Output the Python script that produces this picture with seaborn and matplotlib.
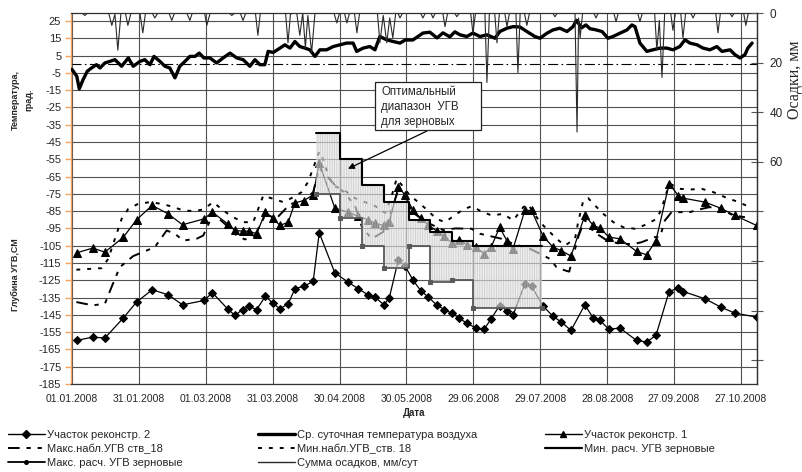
import matplotlib
matplotlib.use("Agg")
import matplotlib.pyplot as plt
import seaborn as sns
from matplotlib.lines import Line2D
from matplotlib.patches import Rectangle

# ---------------- data ----------------
date_ticks = [0, 30, 60, 90, 120, 150, 180, 210, 240, 270, 300]
date_labels = ["01.01.2008", "31.01.2008", "01.03.2008", "31.03.2008", "30.04.2008",
               "30.05.2008", "29.06.2008", "29.07.2008", "28.08.2008", "27.09.2008",
               "27.10.2008"]
depth_ticks = [-185, -175, -165, -155, -145, -135, -125, -115, -105, -95, -85, -75,
               -65, -55, -45, -35, -25, -15, -5, 5, 15, 25]
prec_ticks = [0, 20, 40, 60, 80, 100, 120, 140]
prec_tick_labels = ["0", "20", "40", "60", "", "", "", ""]

# observation days (days since 01.01.2008) for the two plots
obs_days = [2.1, 9.3, 14.8, 23, 29, 36, 43.2, 49.6, 59.2, 63, 69.8, 73.1, 76.5, 79.5,
            82.8, 86.8, 90, 93.3, 97, 100, 104, 108.2, 110.9, 117.9, 123.9, 128.4,
            132.9, 135.9, 139.9, 142.3, 146.3, 149.3, 153, 156.4, 159.8, 163.5, 167,
            170.3, 173.7, 177, 181.2, 184.8, 188, 191.8, 195, 197.8, 203.1, 206.1,
            211.3, 215.7, 219.3, 223.8, 230, 233.8, 236.8, 240.8, 245.7, 253.2, 257.7,
            261.9, 267.8, 271.9, 274.1, 283.9, 290.9, 297.3, 307]
site1 = [-109.1, -106.4, -108.7, -100.2, -90, -81.7, -86.6, -92.9, -89.5, -85.6, -92.3,
         -96.2, -96.6, -96.6, -98.1, -85.6, -89, -93.3, -91.4, -80.2, -78.9, -75.6, -57,
         -83.3, -85.6, -88, -90, -92, -93.3, -91.4, -71, -75.5, -84.6, -89, -93, -96.5,
         -99.5, -103.3, -101.6, -104.5, -105.8, -109.7, -105.8, -94.3, -102, -106.8,
         -84.6, -84.6, -99.5, -105.8, -107.8, -111, -87.5, -93.3, -94.8, -100, -101,
         -108.3, -110.3, -102, -69.2, -76, -77.5, -79.8, -83.3, -87.5, -93.3]
site2 = [-159.8, -157.9, -158.4, -146.9, -137.6, -130.5, -133.4, -139.2, -136.7, -132.2,
         -141.5, -145.3, -142, -140.1, -142, -134.2, -138.2, -141.5, -138.6, -129.9,
         -128.4, -125.7, -97.5, -120.7, -126.1, -129.9, -133.5, -134.7, -139.2, -135.3,
         -113.5, -116.6, -125, -131, -134.7, -139.2, -142, -144, -146.9, -149.8, -152.6,
         -153.4, -147.3, -139.6, -142.5, -145.3, -127, -128.3, -140, -145.8, -149, -154,
         -139.2, -146.9, -148.2, -153.4, -152.6, -159.8, -160.7, -156.9, -131.5, -129.5,
         -131.5, -135.7, -140.5, -144, -146.3]

# observed min depth, well 18 (upper dotted line)
minobs_days = [2, 13.3, 16.3, 19.3, 22.3, 25.3, 29.7, 35, 40.2, 44.7, 49.9, 55.2, 58.9,
               63.4, 67.8, 72.3, 76.8, 81.3, 85.8, 90.3, 94.8, 99.2, 103, 106, 107.5,
               109.7, 110.9, 112, 113.5, 115, 117.2, 122.4, 126, 131.4, 135.9, 140.4,
               143, 145.6, 148, 151.6, 155.3, 159, 163.5, 167.3, 171, 175.5, 179.2, 183.7,
               188.2, 193.4, 197.9, 202.4, 204.5, 209.9, 213.6, 217.3, 221.1, 225.6, 227,
               229.3, 231.5, 235.3, 238.3, 242.8, 247.2, 252.5, 257, 262.2, 264.4, 266.7,
               268.2, 272.6, 277.1, 282.4, 287.6, 292.8, 298.1, 302.5, 305]
minobs = [-118.9, -118, -112.6, -101, -89.5, -83.7, -80.8, -79.8, -80.8, -82.3, -84.6,
          -85, -84, -79.8, -84.6, -88.5, -91.4, -91.4, -76, -77.9, -79.8, -77, -74, -67.9,
          -62.5, -54.8, -50.5, -52.9, -58.6, -64.4, -70.2, -73, -77, -79.8, -82, -86, -78,
          -66.3, -70, -76, -79.8, -84, -89.5, -91.4, -88, -84, -82.2, -85.2, -87.5, -86.6,
          -90.4, -82.7, -81, -91.4, -96.2, -101, -104.9, -101, -91.4, -78.9, -77.5, -82.7,
          -86.6, -91.4, -94.3, -95.2, -93, -89.5, -83.7, -74, -69.2, -72.1, -72.5, -72.1,
          -74, -76.9, -79.4, -81.8, -83]

# observed max depth, well 18 (lower dash line)
maxobs_days = [2, 9.3, 14.8, 17.8, 21.5, 27.5, 33.5, 37.2, 42.5, 46.2, 49.9, 55.9, 58.9,
               63.4, 69.4, 73.9, 77.6, 82, 87, 91.5, 97.8, 104, 108.2, 110.9, 118, 122,
               127, 130, 134.4, 139.6, 142.5, 146, 149, 153, 159, 166.5, 172, 179.2, 183,
               192.7, 198, 205.4, 208.4, 214.3, 217.3, 221.1, 223, 227, 230, 234, 240, 246,
               252, 255.4, 261.4, 263.7, 265.9, 268.9, 272, 277, 282.4, 286, 290.6, 296.6,
               301.8]
maxobs = [-137.6, -139.5, -138.6, -128.9, -117.4, -111, -107.8, -105.8, -96.2, -98.1,
          -102, -101, -99.1, -86.5, -93.3, -99.1, -101.4, -99, -86.6, -89.5, -81, -79, -74,
          -60, -70, -74, -82, -94, -101, -97, -88, -74, -77, -86, -91.4, -96, -95, -95.2,
          -98.1, -101, -104, -106.8, -108.7, -112.6, -117.4, -119.3, -120, -100, -90, -97,
          -102, -104, -104, -103, -100, -100, -90.4, -85.6, -85.6, -85.6, -83.7, -82.7,
          -83.7, -87.5, -88.5]

# calculated optimal range for grain crops (step lines)
step_days = [109.4, 120, 130, 140, 151, 160.5, 170.3, 180, 211]
calc_min = [-40, -55, -70, -80, -90, -97, -102, -105, -105]
calc_max = [-75, -89, -105, -118, -105, -126, -125, -141, -141]

# mean daily air temperature
temp_days = [0, 2.2, 3.3, 5, 6.9, 8.8, 11, 12.6, 14.8, 17, 19.3, 22.3, 25.3, 27.5, 30.5,
             32.7, 35, 36.8, 39.5, 41.7, 43.9, 46.2, 48.4, 50.7, 52.9, 55.2, 57.1, 59.2,
             61.9, 64.9, 67.8, 70.9, 73.9, 76.8, 79.8, 82.1, 84.3, 86.5, 88, 90.3, 93.3,
             95.5, 97.8, 100, 102.2, 104.5, 106.7, 109, 111.2, 114.2, 117.2, 120.2, 123.2,
             126.1, 127.7, 130.6, 133.6, 135.9, 138.1, 141.1, 144.1, 147.1, 149.5, 152.9,
             157.4, 160.5, 163.7, 166.4, 169.5, 171.7, 174, 177.1, 179.8, 183, 186.1,
             189.7, 191.9, 195.1, 197.8, 200.9, 204, 207.6, 209.9, 213, 215.7, 218.8, 222,
             224.7, 226.3, 228.5, 230.5, 232.3, 234.5, 237.7, 240.4, 242.6, 245.7, 248.9,
             251.1, 252.5, 254.7, 257.8, 260.5, 263.7, 266.8, 269.5, 272.6, 274.9, 277.1,
             280.3, 283, 286.1, 289.2, 291.5, 295.1, 297.3, 299.6, 301.8, 303.1, 305]
temp = [-3, -7, -14.3, -9, -4.1, -2.2, -0.3, -2.2, 0.7, 1.6, 2.6, -1.2, 3.6, -1.2, 1.6,
        2.6, -0.3, 4.5, 1.6, -1.2, -2.2, -7.9, -1.2, 1.6, 4.5, 4.5, 6.4, 3.6, 3.6, 0.7,
        3.6, 6.4, 3.6, 2.6, -1.2, 2.6, -0.3, -0.3, 7.4, 6.8, 9.3, 11.2, 9.3, 13.1, 10.2,
        9.3, 8.3, 4.5, 8.3, 8.3, 10.2, 11.2, 12.2, 12.2, 7.4, 9.3, 10.2, 8.3, 16, 14.1,
        13.1, 12.2, 14, 14, 18, 18.5, 15.2, 18.1, 15.8, 18.7, 17, 16, 18, 16, 17, 15, 18.9,
        20.8, 21.7, 21.5, 18.9, 16, 15, 17.9, 19.8, 20.8, 18.9, 21.7, 25.4, 21, 22.7, 20.5,
        20, 18.9, 15, 16, 17.9, 19.8, 22.7, 21.7, 12.2, 7.4, 8.3, 9.3, 9.3, 8.3, 10.2,
        14.1, 12.2, 11.2, 9.3, 8.3, 10.2, 7.4, 8.3, 5.5, 3.6, 5.5, 9.3, 12.2]

# daily precipitation, mm
prec_days = [0, 4.5, 5.8, 7, 16.5, 17.9, 19.3, 20.6, 22, 24, 25.1, 26.5, 30.5, 31.8, 33,
             36, 37.2, 38.5, 43.5, 44.8, 46, 51.5, 52.9, 54, 59.5, 60.5, 62, 70.5, 71.7,
             73, 75.5, 76.7, 78, 82.3, 83.4, 84.5, 95.8, 96.9, 98, 99.2, 100.8, 102.2,
             103.5, 104.7, 105.8, 107.5, 109, 117.5, 118.8, 120, 122.2, 123.3, 124.5,
             126.7, 127.8, 129, 137, 138.1, 139.6, 141.2, 142.5, 143.9, 145.2, 146.2,
             147.1, 148.3, 156.3, 157.4, 158.5, 161, 161.9, 163, 166.3, 167.3, 168.5,
             171.6, 172.6, 173.8, 178.8, 179.8, 181, 185.2, 186.1, 187.2, 189.6, 190.6,
             191.7, 194.1, 195.1, 196.2, 199.1, 200, 201, 202.9, 204, 205.2, 215.6, 216.6,
             217.7, 225.6, 226.5, 227.2, 227.9, 229, 234, 235, 236, 243, 244, 245, 253.7,
             254.7, 255.8, 261.3, 262.3, 263.4, 264.6, 265.8, 268.5, 269.5, 270.6, 273,
             274, 275.2, 277.5, 278.5, 279.6, 288.7, 289.7, 290.8, 295, 296, 297, 301.2,
             302.2, 303.3, 304]
prec = [0, 0, 1, 0, 0, 5, 0.5, 15, 0, 0, 5, 0, 0, 8, 0, 0, 2, 0, 0, 3, 0, 0, 3, 0, 0, 5,
        0, 0, 1, 0, 0, 3, 0, 0, 9, 0, 0, 12, 0.5, 0, 0, 9, 0, 14, 1, 16, 0, 0, 4, 0, 0, 4,
        0, 0, 8, 0, 0, 12, 1, 12, 2, 10, 0, 0, 2, 0, 0, 2, 0, 0, 2, 0, 0, 5.5, 0, 0, 1.5,
        0, 0, 8, 0, 0, 28, 0, 0, 12, 0, 0, 5.5, 0, 0, 24, 0, 0, 5, 0, 0, 1.5, 0, 0, 48, 2,
        10, 0, 0, 2, 0, 0, 3.5, 0, 0, 3.5, 0, 0, 15, 3, 26, 0, 0, 7, 0, 0, 10, 0, 0, 2, 0,
        0, 8, 0, 0, 1.5, 0, 0, 5, 0, 0]

# ---------------- style ----------------
sns.set_style("white")
plt.rcParams["font.family"] = ["Liberation Sans", "DejaVu Sans"]
plt.rcParams["axes.unicode_minus"] = False
plt.rcParams["hatch.linewidth"] = 0.6

W, H = 802, 472
def fx(px):
    return px / W
def fy(py):
    return 1 - py / H

fig = plt.figure(figsize=(W / 100, H / 100), dpi=100)
ax = fig.add_axes([fx(71), fy(384), (757 - 71) / W, (384 - 13) / H])
ax.set_facecolor("white")

GRID = "#505050"
ORANGE = "#f4a460"
MAXOBS_LS = (0, (6, 3.5, 2.2, 3.5, 2.2, 3.5))
MINOBS_LS = (0, (2.0, 3.6))

# zero line of temperature
ax.axhline(0, color="black", lw=0.8, ls=(0, (9, 3, 1.5, 3)), zorder=1.5)

# temperature
sns.lineplot(x=temp_days, y=temp, ax=ax, color="black", lw=2.4, estimator=None,
             errorbar=None, zorder=3)
# observation series
sns.lineplot(x=maxobs_days, y=maxobs, ax=ax, color="black", lw=1.4, estimator=None,
             errorbar=None, linestyle=MAXOBS_LS, zorder=2)
sns.lineplot(x=minobs_days, y=minobs, ax=ax, color="black", lw=1.4, estimator=None,
             errorbar=None, linestyle=MINOBS_LS, zorder=2)
sns.lineplot(x=obs_days, y=site1, ax=ax, color="black", lw=0.9, estimator=None,
             errorbar=None, marker="^", markersize=5.2, markeredgecolor="black",
             markerfacecolor="black", zorder=3)
sns.lineplot(x=obs_days, y=site2, ax=ax, color="black", lw=0.9, estimator=None,
             errorbar=None, marker="D", markersize=3.6, markeredgecolor="black",
             markerfacecolor="black", zorder=3)

# optimal range (shaded)
ax.fill_between(step_days, calc_max, calc_min, step="post", facecolor="#e4e4e4",
                alpha=0.6, hatch="|||||||", edgecolor="#b8b8b8", lw=0, zorder=5)
sns.lineplot(x=step_days, y=calc_min, ax=ax, color="black", lw=1.5, estimator=None,
             errorbar=None, drawstyle="steps-post", zorder=6)
sns.lineplot(x=step_days, y=calc_max, ax=ax, color="#5a5a5a", lw=1.3, estimator=None,
             errorbar=None, drawstyle="steps-post", marker="s", markersize=3,
             markeredgecolor="#5a5a5a", markerfacecolor="#5a5a5a", zorder=6)

ax.set_xlim(-0.4, 307.2)
ax.set_ylim(-185, 29.6)
ax.set_xticks(date_ticks)
ax.set_xticklabels(date_labels)
ax.set_yticks(depth_ticks)
ax.set_yticklabels([str(t) for t in depth_ticks])
ax.set_xlabel("")
ax.set_ylabel("")
ax.grid(True, color=GRID, lw=0.8)
ax.set_axisbelow(True)
ax.tick_params(axis="x", length=0, labelsize=7.5, pad=7)
ax.tick_params(axis="y", direction="out", length=4, width=1, color=ORANGE,
               labelsize=8, pad=3)
for s in ["top", "right", "bottom"]:
    ax.spines[s].set_color("#333333")
    ax.spines[s].set_linewidth(0.9)
ax.spines["left"].set_color(ORANGE)
ax.spines["left"].set_linewidth(1.0)

# precipitation on right (inverted) axis
ax2 = ax.twinx()
sns.lineplot(x=prec_days, y=prec, ax=ax2, color="#2a2a2a", lw=0.8, estimator=None,
             errorbar=None)
ax2.set_ylim(149.6, 0)
ax2.set_xlim(-0.4, 307.2)
ax2.set_yticks(prec_ticks)
ax2.set_yticklabels(prec_tick_labels)
ax2.set_ylabel("")
ax2.tick_params(axis="y", direction="inout", length=8, width=0.8, color="#555555",
                labelsize=8.5, pad=5)
for s in ["left", "top", "bottom"]:
    ax2.spines[s].set_visible(False)
ax2.spines["right"].set_color("#333333")
ax2.spines["right"].set_linewidth(0.9)

# annotation box + arrow
fig.add_artist(Rectangle((fx(375), fy(130)), 106 / W, 48 / H, transform=fig.transFigure,
                         facecolor="white", edgecolor="#222222", lw=0.9, zorder=20))
fig.text(fx(381), fy(107), "Оптимальный\nдиапазон  УГВ\nдля зерновых", fontsize=8.3,
         ha="left", va="center", linespacing=1.3, zorder=21)
ax2.annotate("", xy=(123.8, -60.5), xycoords=ax.transData,
             xytext=(427, H - 131), textcoords="figure pixels",
             arrowprops=dict(arrowstyle="-|>", color="black", lw=0.9,
                             mutation_scale=9, shrinkA=0, shrinkB=0), zorder=19)

# axis texts
fig.text(fx(22), fy(100), "Температура,\nград.", rotation=90, ha="center", va="center",
         fontsize=6.5, fontweight="bold", multialignment="center", linespacing=1.6)
fig.text(fx(15), fy(275), "Глубина УГВ,СМ", rotation=90, ha="center", va="center",
         fontsize=6.5, fontweight="bold")
fig.text(fx(795), fy(80), "Осадки, мм", rotation=90, ha="center", va="center",
         fontsize=11.5, family=["Liberation Serif", "DejaVu Serif"])
fig.text(fx(414), fy(413), "Дата", ha="center", va="center", fontsize=7,
         fontweight="bold")

# legend (three columns)
h_site2 = Line2D([], [], color="black", lw=1, marker="D", ms=3.6)
h_temp = Line2D([], [], color="black", lw=2.4)
h_site1 = Line2D([], [], color="black", lw=1, marker="^", ms=5)
h_maxobs = Line2D([], [], color="black", lw=1.4, ls=MAXOBS_LS)
h_minobs = Line2D([], [], color="black", lw=1.4, ls=MINOBS_LS)
h_cmin = Line2D([], [], color="black", lw=1.6)
h_cmax = Line2D([], [], color="black", lw=1.3, marker="o", ms=2.6)
h_prec = Line2D([], [], color="#2a2a2a", lw=1.0)

cols = [
    ([h_site2, h_maxobs, h_cmax],
     ["Участок реконстр. 2", "Макс.набл.УГВ ств_18", "Макс. расч. УГВ зерновые"], 8),
    ([h_temp, h_minobs, h_prec],
     ["Ср. суточная температура воздуха", "Мин.набл.УГВ_ств. 18", "Сумма осадков, мм/сут"], 258),
    ([h_site1, h_cmin], ["Участок реконстр. 1", "Мин. расч. УГВ зерновые"], 545),
]
for hs, ls_, xpix in cols:
    fig.legend(hs, ls_, loc="upper left", bbox_to_anchor=(fx(xpix), fy(430)),
               frameon=False, fontsize=8, handlelength=3.3, handletextpad=0.2,
               labelspacing=0.35, borderpad=0, borderaxespad=0, numpoints=1)

fig.savefig("out.png", dpi=100)
